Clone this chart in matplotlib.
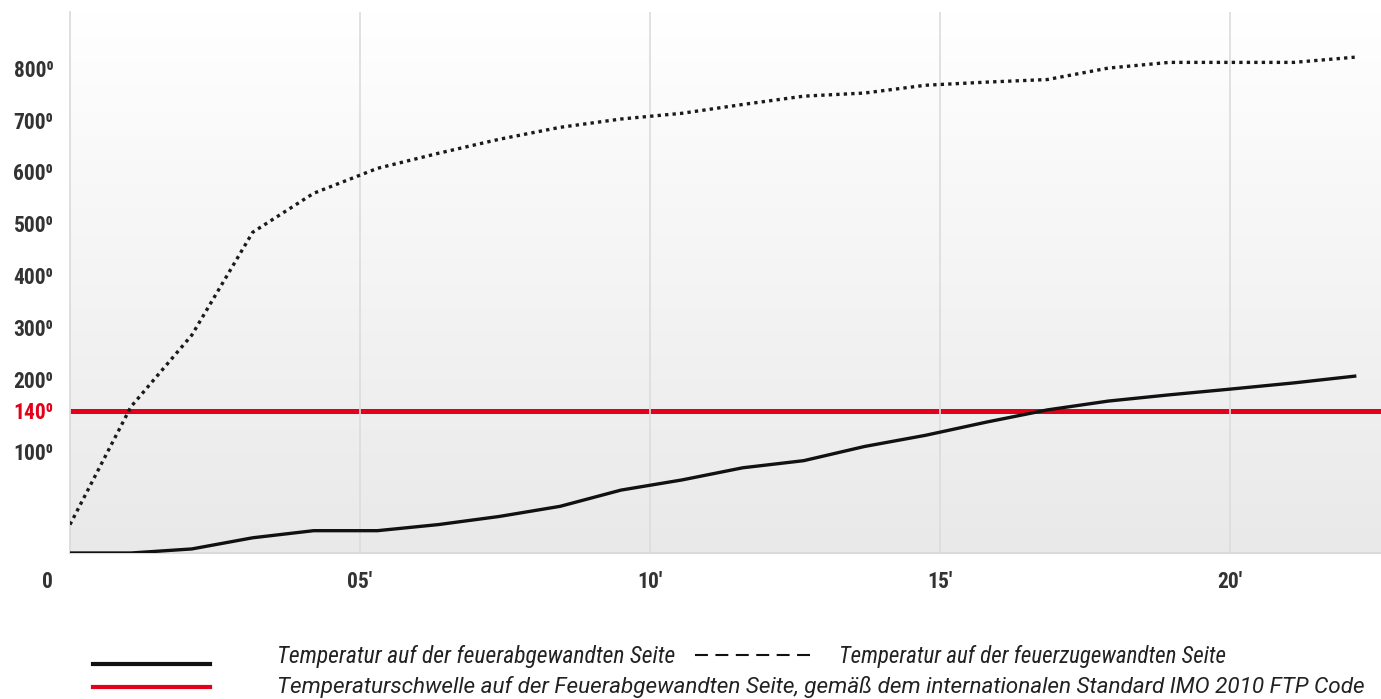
import numpy as np
import matplotlib
matplotlib.use('Agg')
import matplotlib.pyplot as plt
from matplotlib.lines import Line2D
from matplotlib.colors import LinearSegmentedColormap

# ---------------- data ----------------
minutes = [0, 1.05, 2.1, 3.15, 4.2, 5.3, 6.35, 7.4, 8.45, 9.5, 10.55, 11.6,
           12.65, 13.7, 14.75, 15.8, 16.85, 17.9, 18.95, 20.0, 21.1, 22.15]
cold_side = [0, 0, 4, 15, 22, 22, 28, 36, 46, 62, 72, 84, 91, 105, 116, 129,
             142, 159, 171, 182, 194, 207]
hot_side = [28, 148, 286, 484, 559, 607, 636, 663, 686, 702, 713, 730, 746,
            752, 767, 773, 778, 800, 811, 811, 811, 821]
threshold = 140

y_ticks = [100, 140, 200, 300, 400, 500, 600, 700, 800]
y_labels = ['100⁰', '140⁰', '200⁰', '300⁰', '400⁰', '500⁰', '600⁰', '700⁰', '800⁰']
x_ticks = [5, 10, 15, 20]
x_labels = ["05'", "10'", "15'", "20'"]
legend_cold = 'Temperatur auf der feuerabgewandten Seite'
legend_hot = 'Temperatur auf der feuerzugewandten Seite'
legend_thr = ('Temperaturschwelle auf der Feuerabgewandten Seite, gemäß dem '
              'internationalen Standard IMO 2010 FTP Code')

RED = '#e3001b'
TICKFONT = ['Roboto Condensed', 'Roboto', 'DejaVu Sans']
LEGFONT = ['Roboto Condensed', 'Roboto', 'DejaVu Sans']
LEGFONT2 = ['Roboto', 'DejaVu Sans']

W, H = 1381, 699
fig = plt.figure(figsize=(W / 100, H / 100), dpi=100)
fig.patch.set_facecolor('white')

left, right, bottom, top = 70 / W, 1.0, 1 - 553 / H, 1 - 12 / H
pos = [left, bottom, right - left, top - bottom]

# background gradient
bg = fig.add_axes(pos, zorder=0)
cmap = LinearSegmentedColormap.from_list('g', ['#e9e9e9', '#ffffff'])
bg.imshow(np.linspace(0, 1, 256).reshape(-1, 1), cmap=cmap, aspect='auto',
          origin='lower', extent=[0, 1, 0, 1])
bg.axis('off')

ax = fig.add_axes(pos, zorder=1)
ax.set_facecolor('none')

K = 0.512
def fwd(v):
    v = np.asarray(v, dtype=float)
    return np.where(v <= 140, v, 140 + (v - 140) * K)
def inv(u):
    u = np.asarray(u, dtype=float)
    return np.where(u <= 140, u, 140 + (u - 140) / K)
ax.set_yscale('function', functions=(fwd, inv))

ax.set_xlim(0, 1311 / 58)
ax.set_ylim(0, 908)

for xv in x_ticks:
    ax.axvline(xv, color='#dcdcdc', lw=1.2, zorder=2.5)

ax.axhline(threshold, color=RED, lw=3.6, zorder=2, solid_capstyle='butt')
ax.plot(minutes, cold_side, color='#111111', lw=2.4, zorder=3,
        solid_joinstyle='round')
ax.plot(minutes, hot_side, color='#1a1a1a', lw=2.4, zorder=3,
        linestyle=(0, (1, 1.25)), dash_capstyle='butt')

for s in ['top', 'right']:
    ax.spines[s].set_visible(False)
ax.spines['left'].set_color('#d9d9d9')
ax.spines['left'].set_linewidth(1.2)
ax.spines['bottom'].set_color('#dadada')
ax.spines['bottom'].set_linewidth(1.5)

ax.set_yticks(y_ticks)
ax.set_yticklabels(y_labels)
ax.yaxis.set_minor_locator(matplotlib.ticker.NullLocator())
ax.tick_params(axis='y', length=0, pad=12)
for lab in ax.get_yticklabels():
    lab.set_fontfamily(TICKFONT)
    lab.set_fontsize(15.5)
    lab.set_fontweight('bold')
    lab.set_color(RED if lab.get_text().startswith('140') else '#333333')

ax.set_xticks(x_ticks)
ax.set_xticklabels(x_labels)
ax.tick_params(axis='x', length=0, pad=13)
for lab in ax.get_xticklabels():
    lab.set_fontfamily(TICKFONT)
    lab.set_fontsize(15.5)
    lab.set_fontweight('bold')
    lab.set_color('#333333')
ax.annotate('0', xy=(0, 0), xycoords=('data', 'axes fraction'),
            xytext=(-23 * 0.72, -13), textcoords='offset points',
            ha='center', va='top', fontsize=15.5, fontweight='bold',
            family=TICKFONT, color='#333333')

# legend
tf = fig.transFigure
def fx(px):
    return px / W
def fy(py):
    return 1 - py / H

fig.add_artist(Line2D([fx(93), fx(210)], [fy(664), fy(664)], transform=tf,
                      color='#111111', lw=3))
fig.add_artist(Line2D([fx(93), fx(210)], [fy(687), fy(687)], transform=tf,
                      color=RED, lw=3))
fig.add_artist(Line2D([fx(695), fx(812)], [fy(655), fy(655)], transform=tf,
                      color='#111111', lw=1.5, linestyle=(0, (6.2, 3.6))))
fig.text(fx(277), fy(656), legend_cold, ha='left', va='center', fontsize=17,
         style='italic', family=LEGFONT, color='#222222')
fig.text(fx(839), fy(656), legend_hot, ha='left', va='center', fontsize=16.6,
         style='italic', family=LEGFONT, color='#222222')
fig.text(fx(277), fy(687), legend_thr, ha='left', va='center', fontsize=16.2,
         style='italic', family=LEGFONT2, color='#222222')

fig.savefig('out.png', dpi=100, facecolor='white')
